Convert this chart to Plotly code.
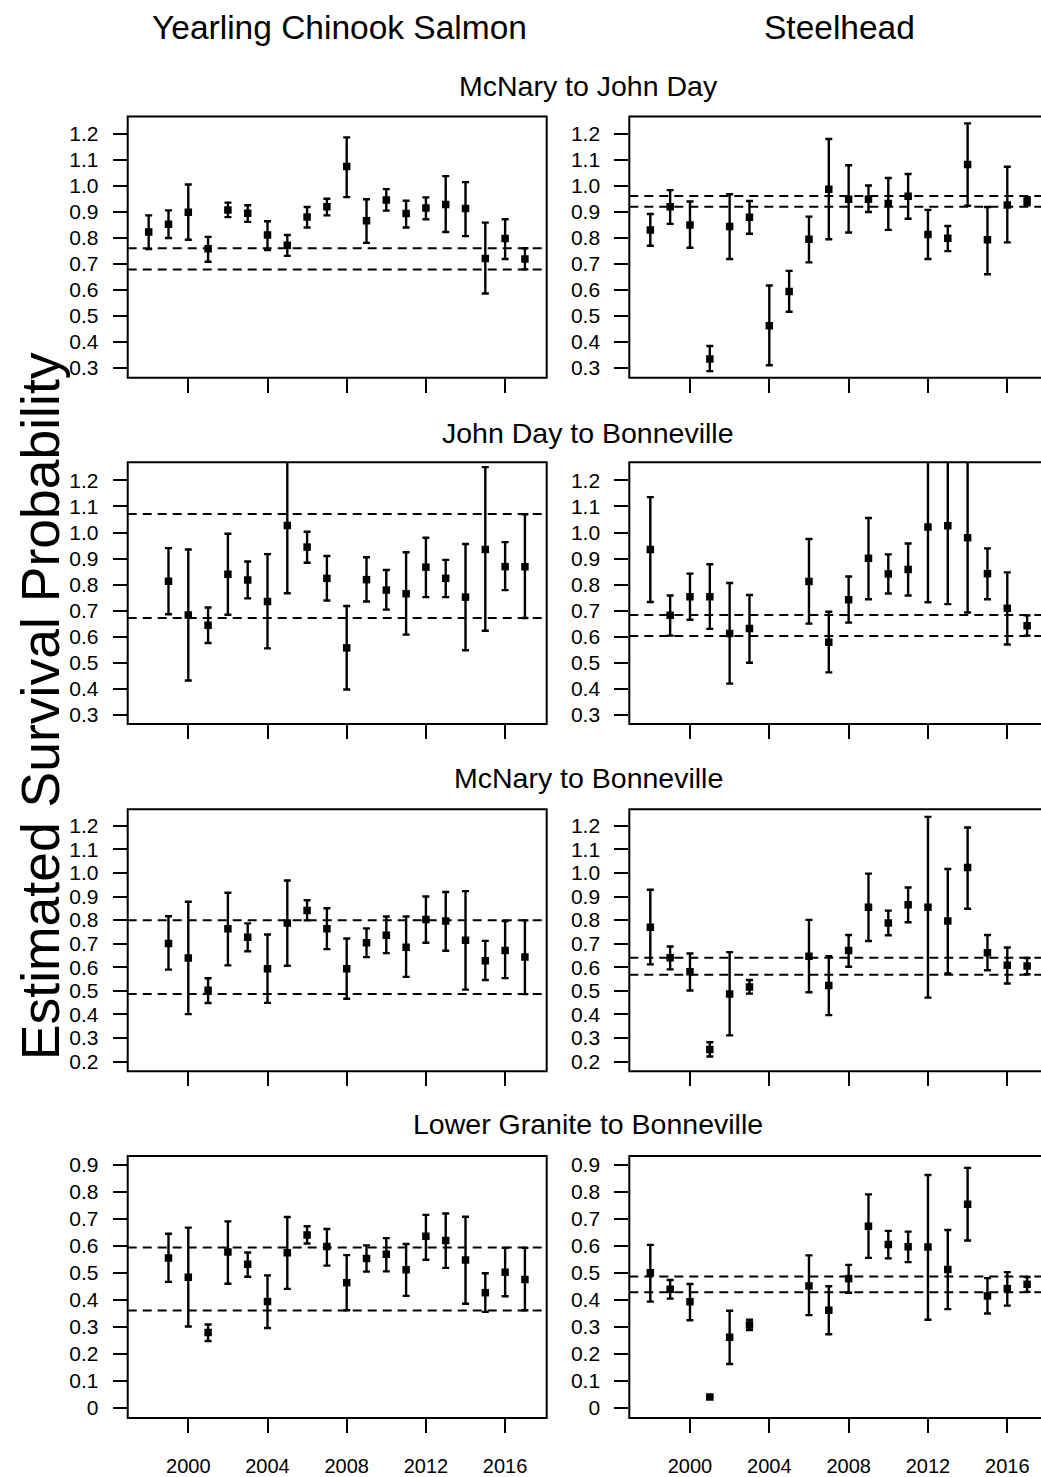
import plotly.graph_objects as go

W, H = 1041, 1477

# ---------------- data ----------------
tick_years = [2000, 2004, 2008, 2012, 2016]
tick_labels_year = ["2000", "2004", "2008", "2012", "2016"]

# Row 1: McNary to John Day
ch_mj_years = [1998, 1999, 2000, 2001, 2002, 2003, 2004, 2005, 2006, 2007,
               2008, 2009, 2010, 2011, 2012, 2013, 2014, 2015, 2016, 2017]
ch_mj_est = [0.823, 0.853, 0.899, 0.758, 0.908, 0.895, 0.811, 0.772, 0.881, 0.920,
             1.075, 0.866, 0.946, 0.894, 0.915, 0.929, 0.913, 0.721, 0.798, 0.719]
ch_mj_hi = [0.887, 0.906, 1.006, 0.804, 0.936, 0.926, 0.864, 0.811, 0.919, 0.951,
            1.187, 0.949, 0.988, 0.943, 0.956, 1.038, 1.015, 0.859, 0.872, 0.760]
ch_mj_lo = [0.757, 0.800, 0.793, 0.708, 0.880, 0.862, 0.753, 0.731, 0.840, 0.887,
            0.957, 0.781, 0.905, 0.840, 0.872, 0.823, 0.807, 0.586, 0.719, 0.679]
ch_mj_ref = [0.760, 0.678]

st_mj_years = [1998, 1999, 2000, 2001, 2002, 2003, 2004, 2005, 2006, 2007,
               2008, 2009, 2010, 2011, 2012, 2013, 2014, 2015, 2016, 2017]
st_mj_est = [0.831, 0.920, 0.850, 0.334, 0.844, 0.880, 0.462, 0.594, 0.795, 0.987,
             0.949, 0.949, 0.933, 0.960, 0.813, 0.799, 1.083, 0.793, 0.927, 0.941]
st_mj_hi = [0.892, 0.984, 0.940, 0.384, 0.968, 0.942, 0.617, 0.673, 0.882, 1.181,
            1.080, 1.002, 1.031, 1.046, 0.908, 0.846, 1.241, 0.919, 1.074, 0.957]
st_mj_lo = [0.770, 0.854, 0.762, 0.287, 0.719, 0.816, 0.310, 0.516, 0.706, 0.795,
            0.821, 0.900, 0.831, 0.874, 0.719, 0.749, 0.924, 0.660, 0.783, 0.926]
st_mj_ref = [0.961, 0.920]

# Row 2: John Day to Bonneville
ch_jb_years = [1999, 2000, 2001, 2002, 2003, 2004, 2005, 2006, 2007, 2008,
               2009, 2010, 2011, 2012, 2013, 2014, 2015, 2016, 2017]
ch_jb_est = [0.813, 0.683, 0.644, 0.840, 0.818, 0.735, 1.027, 0.944, 0.824, 0.557,
             0.819, 0.779, 0.765, 0.867, 0.824, 0.752, 0.935, 0.869, 0.869]
ch_jb_hi = [0.940, 0.935, 0.712, 0.995, 0.889, 0.917, 1.400, 1.003, 0.910, 0.718,
            0.905, 0.856, 0.924, 0.980, 0.895, 0.956, 1.251, 0.963, 1.070]
ch_jb_lo = [0.686, 0.432, 0.576, 0.684, 0.747, 0.555, 0.767, 0.884, 0.739, 0.397,
            0.735, 0.704, 0.608, 0.752, 0.752, 0.548, 0.623, 0.779, 0.672]
ch_jb_ref = [1.071, 0.672]

st_jb_years = [1998, 1999, 2000, 2001, 2002, 2003, 2006, 2007, 2008,
               2009, 2010, 2011, 2012, 2013, 2014, 2015, 2016, 2017]
st_jb_est = [0.935, 0.682, 0.753, 0.753, 0.612, 0.631, 0.812, 0.579, 0.742,
             0.901, 0.841, 0.858, 1.021, 1.026, 0.980, 0.842, 0.709, 0.642]
st_jb_hi = [1.136, 0.758, 0.842, 0.878, 0.806, 0.760, 0.975, 0.696, 0.831,
            1.056, 0.916, 0.958, 1.400, 1.400, 1.400, 0.939, 0.847, 0.682]
st_jb_lo = [0.733, 0.604, 0.665, 0.630, 0.420, 0.500, 0.650, 0.463, 0.654,
            0.744, 0.766, 0.758, 0.732, 0.725, 0.693, 0.744, 0.570, 0.604]
st_jb_ref = [0.683, 0.603]

# Row 3: McNary to Bonneville
ch_mb_years = [1999, 2000, 2001, 2002, 2003, 2004, 2005, 2006, 2007, 2008,
               2009, 2010, 2011, 2012, 2013, 2014, 2015, 2016, 2017]
ch_mb_est = [0.701, 0.639, 0.502, 0.763, 0.727, 0.594, 0.788, 0.841, 0.763, 0.594,
             0.704, 0.736, 0.685, 0.802, 0.796, 0.715, 0.628, 0.671, 0.643]
ch_mb_hi = [0.816, 0.878, 0.553, 0.916, 0.786, 0.739, 0.968, 0.884, 0.850, 0.722,
            0.765, 0.815, 0.815, 0.900, 0.919, 0.923, 0.712, 0.796, 0.799]
ch_mb_lo = [0.590, 0.401, 0.448, 0.608, 0.668, 0.449, 0.606, 0.799, 0.677, 0.466,
            0.643, 0.660, 0.559, 0.704, 0.670, 0.505, 0.546, 0.554, 0.486]
ch_mb_ref = [0.799, 0.486]

st_mb_years = [1998, 1999, 2000, 2001, 2002, 2003, 2006, 2007, 2008,
               2009, 2010, 2011, 2012, 2013, 2014, 2015, 2016, 2017]
st_mb_est = [0.770, 0.640, 0.581, 0.251, 0.486, 0.516, 0.647, 0.523, 0.671,
             0.854, 0.788, 0.865, 0.854, 0.796, 1.023, 0.661, 0.608, 0.605]
st_mb_hi = [0.929, 0.688, 0.658, 0.282, 0.664, 0.546, 0.801, 0.647, 0.737,
            0.997, 0.840, 0.938, 1.238, 1.017, 1.193, 0.737, 0.684, 0.639]
st_mb_lo = [0.612, 0.591, 0.501, 0.221, 0.311, 0.488, 0.494, 0.397, 0.602,
            0.711, 0.736, 0.791, 0.471, 0.574, 0.848, 0.587, 0.531, 0.570]
st_mb_ref = [0.640, 0.568]

# Row 4: Lower Granite to Bonneville
ch_lb_years = [1999, 2000, 2001, 2002, 2003, 2004, 2005, 2006, 2007, 2008,
               2009, 2010, 2011, 2012, 2013, 2014, 2015, 2016, 2017]
ch_lb_est = [0.555, 0.484, 0.280, 0.578, 0.532, 0.394, 0.575, 0.641, 0.598, 0.464,
             0.554, 0.569, 0.512, 0.636, 0.620, 0.548, 0.427, 0.503, 0.476]
ch_lb_hi = [0.645, 0.668, 0.309, 0.691, 0.576, 0.491, 0.707, 0.673, 0.663, 0.566,
            0.602, 0.629, 0.607, 0.715, 0.720, 0.708, 0.499, 0.593, 0.593]
ch_lb_lo = [0.467, 0.302, 0.248, 0.460, 0.486, 0.296, 0.441, 0.609, 0.527, 0.362,
            0.505, 0.506, 0.415, 0.549, 0.519, 0.386, 0.356, 0.414, 0.362]
ch_lb_ref = [0.594, 0.361]

st_lb_years = [1998, 1999, 2000, 2001, 2002, 2003, 2006, 2007, 2008,
               2009, 2010, 2011, 2012, 2013, 2014, 2015, 2016, 2017]
st_lb_est = [0.501, 0.440, 0.393, 0.041, 0.262, 0.307, 0.452, 0.362, 0.479,
             0.673, 0.605, 0.597, 0.596, 0.513, 0.754, 0.415, 0.442, 0.458]
st_lb_hi = [0.604, 0.474, 0.459, 0.041, 0.360, 0.327, 0.565, 0.451, 0.530,
            0.791, 0.656, 0.653, 0.863, 0.659, 0.889, 0.481, 0.503, 0.485]
st_lb_lo = [0.394, 0.405, 0.325, 0.041, 0.163, 0.289, 0.344, 0.273, 0.427,
            0.556, 0.554, 0.540, 0.327, 0.366, 0.620, 0.350, 0.379, 0.430]
st_lb_ref = [0.487, 0.429]

col_titles = ["Yearling Chinook Salmon", "Steelhead"]
row_titles = ["McNary to John Day", "John Day to Bonneville",
              "McNary to Bonneville", "Lower Granite to Bonneville"]
y_title = "Estimated Survival Probability"

ytick_vals_a = [0.3, 0.4, 0.5, 0.6, 0.7, 0.8, 0.9, 1.0, 1.1, 1.2]
ytick_text_a = ["0.3", "0.4", "0.5", "0.6", "0.7", "0.8", "0.9", "1.0", "1.1", "1.2"]
ytick_vals_b = [0.2, 0.3, 0.4, 0.5, 0.6, 0.7, 0.8, 0.9, 1.0, 1.1, 1.2]
ytick_text_b = ["0.2", "0.3", "0.4", "0.5", "0.6", "0.7", "0.8", "0.9", "1.0", "1.1", "1.2"]
ytick_vals_c = [0, 0.1, 0.2, 0.3, 0.4, 0.5, 0.6, 0.7, 0.8, 0.9]
ytick_text_c = ["0", "0.1", "0.2", "0.3", "0.4", "0.5", "0.6", "0.7", "0.8", "0.9"]

# ---------------- layout geometry ----------------
FONT = "Liberation Sans, Arial, Helvetica, sans-serif"
x_dom = {0: [127.7 / W, 546.7 / W], 1: [629.3 / W, 1.0]}
x_rng = {0: [1996.94, 2018.10], 1: [1996.94, 2017.70]}
row_px = [(114.0, 376.7), (461.7, 725.0), (810.7, 1074.0), (1159.3, 1422.7)]
y_rng = [[0.262, 1.268], [0.2645, 1.270], [0.159, 1.270], [-0.037, 0.933]]
y_ticks = [(ytick_vals_a, ytick_text_a), (ytick_vals_a, ytick_text_a),
           (ytick_vals_b, ytick_text_b), (ytick_vals_c, ytick_text_c)]

panels = [
    (ch_mj_years, ch_mj_est, ch_mj_hi, ch_mj_lo, ch_mj_ref),
    (st_mj_years, st_mj_est, st_mj_hi, st_mj_lo, st_mj_ref),
    (ch_jb_years, ch_jb_est, ch_jb_hi, ch_jb_lo, ch_jb_ref),
    (st_jb_years, st_jb_est, st_jb_hi, st_jb_lo, st_jb_ref),
    (ch_mb_years, ch_mb_est, ch_mb_hi, ch_mb_lo, ch_mb_ref),
    (st_mb_years, st_mb_est, st_mb_hi, st_mb_lo, st_mb_ref),
    (ch_lb_years, ch_lb_est, ch_lb_hi, ch_lb_lo, ch_lb_ref),
    (st_lb_years, st_lb_est, st_lb_hi, st_lb_lo, st_lb_ref),
]

fig = go.Figure()
shapes = []
annotations = []
layout_axes = {}

for i, (yrs, est, hi, lo, ref) in enumerate(panels):
    row, col = divmod(i, 2)
    n = i + 1
    xa = "x" if n == 1 else f"x{n}"
    ya = "y" if n == 1 else f"y{n}"
    fig.add_trace(go.Scatter(
        x=yrs, y=est, xaxis=xa, yaxis=ya, mode="markers",
        marker=dict(symbol="square", size=7.5, color="black"),
        error_y=dict(type="data", symmetric=False,
                     array=[h - e for h, e in zip(hi, est)],
                     arrayminus=[e - l for e, l in zip(est, lo)],
                     color="black", thickness=2.4, width=3.5,
                     visible=True),
        showlegend=False, hoverinfo="x+y"))
    top, bot = row_px[row]
    ydom = [1 - bot / H, 1 - top / H]
    tv, tt = y_ticks[row]
    layout_axes["xaxis" if n == 1 else f"xaxis{n}"] = dict(
        domain=x_dom[col], range=x_rng[col], anchor=ya,
        showgrid=False, zeroline=False, showline=False,
        ticks="outside", ticklen=14, tickwidth=2, tickcolor="black",
        tickvals=tick_years, ticktext=tick_labels_year,
        showticklabels=(row == 3), ticklabelstandoff=16,
        tickfont=dict(family=FONT, size=20, color="black"))
    layout_axes["yaxis" if n == 1 else f"yaxis{n}"] = dict(
        domain=ydom, range=y_rng[row], anchor=xa,
        showgrid=False, zeroline=False, showline=False,
        ticks="outside", ticklen=14, tickwidth=2, tickcolor="black",
        tickvals=tv, ticktext=tt, ticklabelstandoff=10,
        tickfont=dict(family=FONT, size=21, color="black"))
    xr_end = 1.0 if col == 0 else 1.03
    # frame
    shapes.append(dict(type="rect", xref=f"{xa} domain", yref=f"{ya} domain",
                       x0=0, x1=xr_end, y0=0, y1=1,
                       line=dict(color="black", width=2), layer="above"))
    # reference dashed lines
    for r in ref:
        shapes.append(dict(type="line", xref=f"{xa} domain", yref=ya,
                           x0=0, x1=xr_end, y0=r, y1=r,
                           line=dict(color="black", width=2, dash="9px,6px"),
                           layer="above"))

# column titles
for c, (t, xc) in enumerate(zip(col_titles, [339, 839])):
    annotations.append(dict(text=t, x=xc / W, y=1 - 25 / H, xref="paper", yref="paper",
                            showarrow=False, xanchor="center", yanchor="middle",
                            font=dict(family=FONT, size=33.5, color="black")))
# row titles
for t, yc in zip(row_titles, [83, 432, 779, 1127]):
    annotations.append(dict(text=t, x=588 / W, y=1 - yc / H, xref="paper", yref="paper",
                            showarrow=False, xanchor="center", yanchor="middle",
                            font=dict(family=FONT, size=28.5, color="black")))
# y-axis title
annotations.append(dict(text=y_title, x=40 / W, y=1 - 707 / H, xref="paper", yref="paper",
                        showarrow=False, xanchor="center", yanchor="middle", textangle=-90,
                        font=dict(family=FONT, size=53.5, color="black")))

fig.update_layout(
    width=W, height=H, margin=dict(l=0, r=0, t=0, b=0),
    paper_bgcolor="white", plot_bgcolor="white",
    shapes=shapes, annotations=annotations,
    font=dict(family=FONT, color="black"),
    **layout_axes)

fig.write_html("out.html")
